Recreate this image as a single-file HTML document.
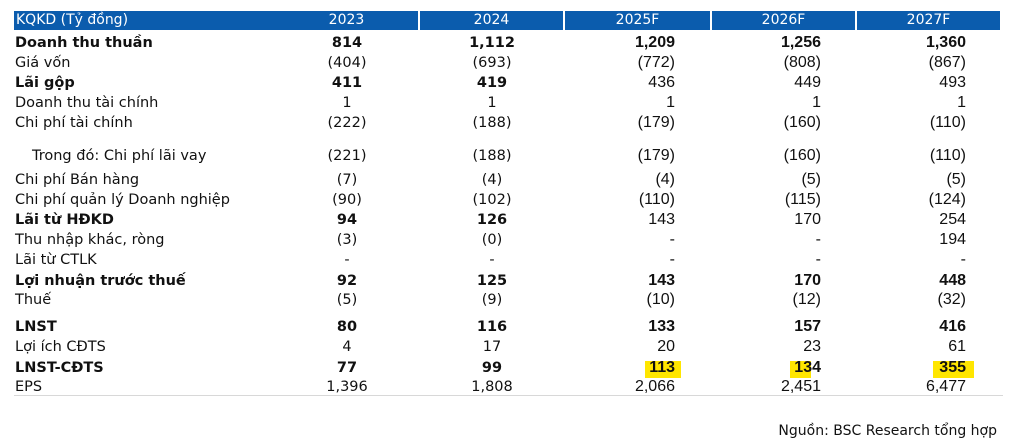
<!DOCTYPE html>
<html><head><meta charset="utf-8"><style>
body{margin:0;width:1012px;height:446px;background:#fff;position:relative;font-family:"DejaVu Sans","Liberation Sans",sans-serif;color:#111;overflow:hidden}
.h{position:absolute;top:11px;height:19px;background:#0b5cad;color:#fff;font-size:14px;line-height:19px}
.r{position:absolute;left:0;width:1012px;height:20px;font-size:14.5px;line-height:20px}
.r span{position:absolute;white-space:nowrap}
.l{left:15px}
.a{left:274px;width:146px;text-align:center}
.b{left:419px;width:146px;text-align:center}
.c,.d,.e{font-family:"Liberation Sans",Arial,sans-serif;font-size:16px;text-align:right}
.c{right:337px}.d{right:191px}.e{right:46px}
.B{font-weight:bold}
.hl{position:absolute;background:#ffe600;height:17px}
</style></head><body>
<div class="hl" style="left:645px;top:361px;width:36px"></div>
<div class="hl" style="left:790px;top:361px;width:21px"></div>
<div class="hl" style="left:933px;top:361px;width:41px"></div>
<div class="h" style="left:14px;width:259px;padding-left:2px">KQKD (Tỷ đồng)</div>
<div class="h" style="left:275px;width:143px;text-align:center">2023</div>
<div class="h" style="left:420px;width:143px;text-align:center">2024</div>
<div class="h" style="left:565px;width:145px;text-align:center">2025F</div>
<div class="h" style="left:712px;width:143px;text-align:center">2026F</div>
<div class="h" style="left:857px;width:143px;text-align:center">2027F</div>

<div class="r B" style="top:33px"><span class="l">Doanh thu thuần</span><span class="a">814</span><span class="b">1,112</span><span class="c">1,209</span><span class="d">1,256</span><span class="e">1,360</span></div>
<div class="r" style="top:53px"><span class="l">Giá vốn</span><span class="a">(404)</span><span class="b">(693)</span><span class="c">(772)</span><span class="d">(808)</span><span class="e">(867)</span></div>
<div class="r" style="top:73px"><span class="l B">Lãi gộp</span><span class="a B">411</span><span class="b B">419</span><span class="c">436</span><span class="d">449</span><span class="e">493</span></div>
<div class="r" style="top:93px"><span class="l">Doanh thu tài chính</span><span class="a">1</span><span class="b">1</span><span class="c">1</span><span class="d">1</span><span class="e">1</span></div>
<div class="r" style="top:113px"><span class="l">Chi phí tài chính</span><span class="a">(222)</span><span class="b">(188)</span><span class="c">(179)</span><span class="d">(160)</span><span class="e">(110)</span></div>
<div class="r" style="top:146px"><span class="l" style="left:32px">Trong đó: Chi phí lãi vay</span><span class="a">(221)</span><span class="b">(188)</span><span class="c">(179)</span><span class="d">(160)</span><span class="e">(110)</span></div>
<div class="r" style="top:170px"><span class="l">Chi phí Bán hàng</span><span class="a">(7)</span><span class="b">(4)</span><span class="c">(4)</span><span class="d">(5)</span><span class="e">(5)</span></div>
<div class="r" style="top:190px"><span class="l">Chi phí quản lý Doanh nghiệp</span><span class="a">(90)</span><span class="b">(102)</span><span class="c">(110)</span><span class="d">(115)</span><span class="e">(124)</span></div>
<div class="r" style="top:210px"><span class="l B">Lãi từ HĐKD</span><span class="a B">94</span><span class="b B">126</span><span class="c">143</span><span class="d">170</span><span class="e">254</span></div>
<div class="r" style="top:230px"><span class="l">Thu nhập khác, ròng</span><span class="a">(3)</span><span class="b">(0)</span><span class="c">-</span><span class="d">-</span><span class="e">194</span></div>
<div class="r" style="top:250px"><span class="l">Lãi từ CTLK</span><span class="a">-</span><span class="b">-</span><span class="c">-</span><span class="d">-</span><span class="e">-</span></div>
<div class="r B" style="top:271px"><span class="l">Lợi nhuận trước thuế</span><span class="a">92</span><span class="b">125</span><span class="c">143</span><span class="d">170</span><span class="e">448</span></div>
<div class="r" style="top:290px"><span class="l">Thuế</span><span class="a">(5)</span><span class="b">(9)</span><span class="c">(10)</span><span class="d">(12)</span><span class="e">(32)</span></div>
<div class="r B" style="top:317px"><span class="l">LNST</span><span class="a">80</span><span class="b">116</span><span class="c">133</span><span class="d">157</span><span class="e">416</span></div>
<div class="r" style="top:337px"><span class="l">Lợi ích CĐTS</span><span class="a">4</span><span class="b">17</span><span class="c">20</span><span class="d">23</span><span class="e">61</span></div>
<div class="r B" style="top:358px"><span class="l">LNST-CĐTS</span><span class="a">77</span><span class="b">99</span><span class="c">113</span><span class="d">134</span><span class="e">355</span></div>
<div class="r" style="top:377px"><span class="l">EPS</span><span class="a">1,396</span><span class="b">1,808</span><span class="c">2,066</span><span class="d">2,451</span><span class="e">6,477</span></div>
<div style="position:absolute;left:14px;top:395px;width:989px;height:1px;background:#d8d8d8"></div>
<div style="position:absolute;right:15px;top:423px;font-size:14px">Nguồn: BSC Research tổng hợp</div>
</body></html>
